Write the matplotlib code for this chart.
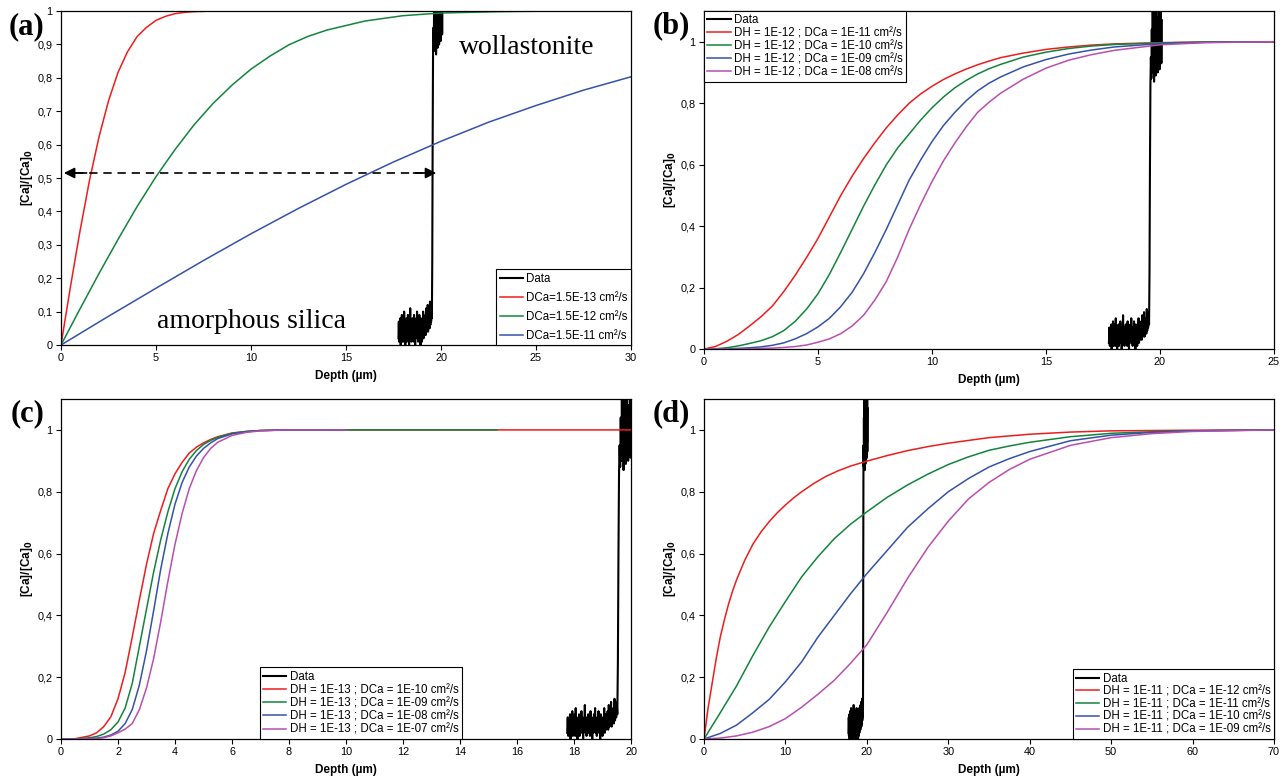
import matplotlib
matplotlib.use("Agg")
import matplotlib.pyplot as plt
from matplotlib.ticker import FuncFormatter, MultipleLocator
import numpy as np

plt.rcParams['font.family'] = ['Liberation Sans', 'DejaVu Sans']

# colours of the four model curves
col_red = '#ee1c1c'
col_green = '#13843c'
col_blue = '#3452a8'
col_mag = '#b84fae'

# ---------------- measured Ca profile (same in every panel) ----------------
data_depth = np.round(np.arange(17.76, 20.09, 0.02), 2)
data_ca = [0.02, 0.07, 0.01, 0.06, 0.03, 0.08, 0.00, 0.05, 0.02, 0.09,
           0.01, 0.06, 0.04, 0.08, 0.01, 0.10, 0.03, 0.07, 0.00, 0.06,
           0.02, 0.08, 0.01, 0.05, 0.03, 0.09, 0.02, 0.07, 0.00, 0.06,
           0.04, 0.11, 0.02, 0.07, 0.01, 0.05, 0.03, 0.08, 0.02, 0.06,
           0.01, 0.09, 0.03, 0.07, 0.00, 0.06, 0.02, 0.08, 0.04, 0.10,
           0.02, 0.06, 0.01, 0.07, 0.03, 0.09, 0.02, 0.05, 0.00, 0.08,
           0.03, 0.07, 0.01, 0.06, 0.04, 0.10, 0.02, 0.08, 0.03, 0.06,
           0.05, 0.09, 0.03, 0.11, 0.04, 0.08, 0.05, 0.12, 0.04, 0.09,
           0.06, 0.10, 0.05, 0.13, 0.06, 0.11, 0.07, 0.12, 0.08,
           0.25, 0.60, 0.86,
           0.95, 0.88, 1.04, 0.90, 1.10, 0.92, 1.02, 0.87, 1.12, 0.93,
           1.06, 0.89, 1.15, 0.94, 1.03, 0.90, 1.08, 0.95, 1.12, 0.91,
           1.05, 0.96, 1.10, 0.93, 1.07]

# ---------------- panel (a) ----------------
a_x_red = [0, 0.25, 0.5, 0.75, 1, 1.5, 2, 2.5, 3, 3.5, 4, 4.5, 5, 5.5, 6, 6.5, 7, 8, 23]
a_y_red = [0, 0.088, 0.175, 0.259, 0.341, 0.493, 0.623, 0.731, 0.816, 0.878,
           0.923, 0.951, 0.972, 0.984, 0.992, 0.996, 0.998, 1.0, 1.0]
a_x_green = [0, 1, 2, 3, 4, 5, 6, 7, 8, 9, 10, 11, 12, 13, 14, 16, 18, 20, 23, 26, 30]
a_y_green = [0, 0.108, 0.214, 0.316, 0.414, 0.504, 0.585, 0.659, 0.723, 0.778,
             0.826, 0.865, 0.899, 0.924, 0.943, 0.970, 0.986, 0.994, 0.998, 1.0, 1.0]
a_x_blue = [0, 2.5, 5, 7.5, 10, 12.5, 15, 17.5, 20, 22.5, 25, 27.5, 30]
a_y_blue = [0, 0.086, 0.170, 0.253, 0.333, 0.409, 0.481, 0.548, 0.610, 0.667,
            0.717, 0.763, 0.803]
a_labels = ['DCa=1.5E-13 cm²/s', 'DCa=1.5E-12 cm²/s', 'DCa=1.5E-11 cm²/s']

# ---------------- panel (b) ----------------
b_x = [0, 0.5, 1, 1.5, 2, 2.5, 3, 3.5, 4, 4.5, 5, 5.5, 6, 6.5, 7, 7.5, 8, 8.5,
       9, 9.5, 10, 10.5, 11, 11.5, 12, 12.5, 13, 14, 15, 16, 17, 18, 20, 22, 25]
b_red = [0, 0.008, 0.025, 0.047, 0.075, 0.105, 0.14, 0.187, 0.24, 0.298,
         0.36, 0.43, 0.50, 0.563, 0.62, 0.672, 0.72, 0.762, 0.80, 0.83,
         0.855, 0.877, 0.895, 0.911, 0.925, 0.937, 0.948,
         0.963, 0.975, 0.983, 0.989, 0.993, 0.997, 0.999, 1.0]
b_green = [0, 0.001, 0.004, 0.01, 0.018, 0.027, 0.04, 0.06, 0.09, 0.13,
           0.18, 0.243, 0.315, 0.39, 0.465, 0.535, 0.60, 0.655, 0.70, 0.745,
           0.785, 0.82, 0.85, 0.874, 0.895, 0.912, 0.926,
           0.95, 0.966, 0.978, 0.986, 0.991, 0.996, 0.999, 1.0]
b_blue = [0, 0, 0.001, 0.002, 0.004, 0.007, 0.012, 0.02, 0.033, 0.05,
          0.072, 0.1, 0.138, 0.185, 0.245, 0.315, 0.39, 0.47, 0.55, 0.615,
          0.675, 0.727, 0.77, 0.808, 0.84, 0.865, 0.885,
          0.918, 0.942, 0.96, 0.973, 0.983, 0.994, 0.998, 1.0]
b_mag = [0, 0, 0, 0, 0.001, 0.002, 0.003, 0.005, 0.008, 0.013,
         0.022, 0.033, 0.05, 0.075, 0.11, 0.16, 0.22, 0.30, 0.39, 0.47,
         0.545, 0.612, 0.67, 0.723, 0.77, 0.803, 0.832,
         0.878, 0.914, 0.94, 0.958, 0.972, 0.99, 0.997, 1.0]
b_labels = ['DH = 1E-12 ; DCa = 1E-11 cm²/s', 'DH = 1E-12 ; DCa = 1E-10 cm²/s',
            'DH = 1E-12 ; DCa = 1E-09 cm²/s', 'DH = 1E-12 ; DCa = 1E-08 cm²/s']

# ---------------- panel (c) ----------------
c_x = [0, 0.5, 1, 1.25, 1.5, 1.75, 2, 2.25, 2.5, 2.75, 3, 3.25, 3.5, 3.75, 4,
       4.25, 4.5, 4.75, 5, 5.25, 5.5, 6, 6.5, 7, 8, 10]
c_red = [0, 0.001, 0.01, 0.02, 0.04, 0.072, 0.13, 0.215, 0.33, 0.45, 0.565,
         0.665, 0.74, 0.81, 0.858, 0.895, 0.925, 0.944, 0.958, 0.969, 0.978,
         0.99, 0.995, 0.998, 1.0, 1.0]
c_green = [0, 0, 0.004, 0.008, 0.016, 0.03, 0.055, 0.10, 0.18, 0.30, 0.42,
           0.54, 0.645, 0.735, 0.81, 0.865, 0.905, 0.933, 0.953, 0.966, 0.976,
           0.989, 0.995, 0.998, 1.0, 1.0]
c_blue = [0, 0, 0.002, 0.003, 0.006, 0.013, 0.025, 0.05, 0.095, 0.175, 0.285,
          0.415, 0.55, 0.665, 0.76, 0.83, 0.88, 0.915, 0.94, 0.958, 0.972,
          0.987, 0.994, 0.998, 1.0, 1.0]
c_mag = [0, 0, 0.001, 0.002, 0.004, 0.01, 0.02, 0.032, 0.05, 0.095, 0.165,
         0.26, 0.38, 0.51, 0.63, 0.73, 0.81, 0.868, 0.91, 0.94, 0.96,
         0.982, 0.992, 0.997, 1.0, 1.0]
c_red_end = [15.3, 20]
c_green_end = [15.3]
c_labels = ['DH = 1E-13 ; DCa = 1E-10 cm²/s', 'DH = 1E-13 ; DCa = 1E-09 cm²/s',
            'DH = 1E-13 ; DCa = 1E-08 cm²/s', 'DH = 1E-13 ; DCa = 1E-07 cm²/s']

# ---------------- panel (d) ----------------
d_x_red = [0, 0.25, 0.5, 0.75, 1, 1.5, 2, 2.5, 3, 3.5, 4, 5, 6, 7, 8, 9, 10, 11,
           12, 13.5, 15, 16.5, 18, 20, 22.5, 25, 27.5, 30, 35, 40, 45, 50, 60, 70]
d_y_red = [0, 0.05, 0.10, 0.14, 0.18, 0.26, 0.33, 0.385, 0.435, 0.478, 0.515,
           0.578, 0.63, 0.67, 0.703, 0.732, 0.757, 0.78, 0.80, 0.827, 0.85,
           0.868, 0.883, 0.899, 0.917, 0.933, 0.946, 0.957, 0.975, 0.986,
           0.993, 0.997, 0.999, 1.0]
d_x_green = [0, 2, 4, 6, 8, 10, 12, 14, 16, 18, 20, 22.5, 25, 27.5, 30, 32.5,
             35, 37.5, 40, 45, 50, 55, 60, 70]
d_y_green = [0, 0.085, 0.172, 0.27, 0.362, 0.445, 0.525, 0.59, 0.648, 0.695,
             0.735, 0.782, 0.822, 0.857, 0.888, 0.913, 0.934, 0.948, 0.96,
             0.978, 0.989, 0.994, 0.997, 1.0]
d_x_blue = [0, 2, 4, 6, 8, 10, 12, 14, 16, 18, 20, 22.5, 25, 27.5, 30, 32.5, 35,
            37.5, 40, 45, 50, 55, 60, 70]
d_y_blue = [0, 0.018, 0.045, 0.085, 0.128, 0.185, 0.25, 0.33, 0.40, 0.47,
            0.535, 0.61, 0.685, 0.745, 0.80, 0.843, 0.88, 0.907, 0.93, 0.965,
            0.983, 0.992, 0.997, 1.0]
d_x_mag = [0, 2, 4, 6, 8, 10, 12, 14, 16, 18, 20, 22.5, 25, 27.5, 30, 32.5, 35,
           37.5, 40, 45, 50, 55, 60, 70]
d_y_mag = [0, 0.003, 0.01, 0.022, 0.04, 0.066, 0.103, 0.145, 0.19, 0.245,
           0.305, 0.41, 0.52, 0.62, 0.705, 0.777, 0.83, 0.872, 0.905, 0.95,
           0.975, 0.988, 0.995, 1.0]
d_labels = ['DH = 1E-11 ; DCa = 1E-12 cm²/s', 'DH = 1E-11 ; DCa = 1E-11 cm²/s',
            'DH = 1E-11 ; DCa = 1E-10 cm²/s', 'DH = 1E-11 ; DCa = 1E-09 cm²/s']


def comma(v, pos):
  return ('%g' % round(v, 3)).replace('.', ',')


def style_axes(ax, xmax, xstep, ymax, ystep):
  ax.set_xlim(0, xmax)
  ax.set_ylim(0, ymax)
  ax.xaxis.set_major_locator(MultipleLocator(xstep))
  ax.set_yticks(np.arange(0, 1.0001, ystep))
  ax.yaxis.set_major_formatter(FuncFormatter(comma))
  ax.tick_params(direction='out', length=3.5, width=0.8, labelsize=7.8, pad=2.5)
  for s in ax.spines.values():
    s.set_linewidth(0.9)
  ax.set_xlabel('Depth (µm)', fontweight='bold', fontsize=8.5, labelpad=5)
  ax.set_ylabel(r'[Ca]/[Ca]$_\mathbf{0}$', fontweight='bold', fontsize=8.5, labelpad=1.5)


def add_legend(ax, spacing, **kw):
  leg = ax.legend(fontsize=8.3, frameon=True, fancybox=False, framealpha=1,
                  edgecolor='black', borderaxespad=0, handlelength=2.0,
                  handletextpad=0.3, labelspacing=spacing, borderpad=0.3, **kw)
  leg.get_frame().set_linewidth(0.8)


fig = plt.figure(figsize=(12.84, 7.76), dpi=100)
W, H = 1284.0, 776.0
ax_a = fig.add_axes([61 / W, 1 - 345 / H, 570 / W, 334 / H])
ax_b = fig.add_axes([704 / W, 1 - 349 / H, 570 / W, 338 / H])
ax_c = fig.add_axes([61 / W, 1 - 739 / H, 570 / W, 340 / H])
ax_d = fig.add_axes([704 / W, 1 - 739 / H, 570 / W, 340 / H])

lw = 1.1
dlw = 1.5

# (a)
ax_a.plot(data_depth, data_ca, color='black', lw=dlw, label='Data')
ax_a.plot(a_x_red, a_y_red, color=col_red, lw=lw, label=a_labels[0])
ax_a.plot(a_x_green, a_y_green, color=col_green, lw=lw, label=a_labels[1])
ax_a.plot(a_x_blue, a_y_blue, color=col_blue, lw=lw, label=a_labels[2])
style_axes(ax_a, 30, 5, 1.0, 0.1)
add_legend(ax_a, 0.6, loc='lower right')
ax_a.text(24.5, 0.89, 'wollastonite', family='Liberation Serif', fontsize=20,
          ha='center', va='center')
ax_a.text(10.05, 0.069, 'amorphous silica', family='Liberation Serif', fontsize=20,
          ha='center', va='center')
arrow_left, arrow_right, arrow_y = 0.15, 19.75, 0.515
ax_a.plot([arrow_left + 0.6, arrow_right - 0.6], [arrow_y, arrow_y], color='black',
          lw=1.2, ls=(0, (5, 3.5)))
ax_a.annotate('', xy=(arrow_left, arrow_y), xytext=(arrow_left + 1.2, arrow_y),
              arrowprops=dict(arrowstyle='-|>', color='black', lw=1.2,
                              mutation_scale=16, shrinkA=0, shrinkB=0))
ax_a.annotate('', xy=(arrow_right, arrow_y), xytext=(arrow_right - 1.2, arrow_y),
              arrowprops=dict(arrowstyle='-|>', color='black', lw=1.2,
                              mutation_scale=16, shrinkA=0, shrinkB=0))

# (b)
ax_b.plot(data_depth, data_ca, color='black', lw=dlw, label='Data')
ax_b.plot(b_x, b_red, color=col_red, lw=lw, label=b_labels[0])
ax_b.plot(b_x, b_green, color=col_green, lw=lw, label=b_labels[1])
ax_b.plot(b_x, b_blue, color=col_blue, lw=lw, label=b_labels[2])
ax_b.plot(b_x, b_mag, color=col_mag, lw=lw, label=b_labels[3])
style_axes(ax_b, 25, 5, 1.1, 0.2)
add_legend(ax_b, 0.08, loc='upper left')

# (c)
ax_c.plot(data_depth, data_ca, color='black', lw=dlw, label='Data')
ax_c.plot(c_x + c_red_end, c_red + [1.0, 1.0], color=col_red, lw=lw, label=c_labels[0])
ax_c.plot(c_x + c_green_end, c_green + [1.0], color=col_green, lw=lw, label=c_labels[1])
ax_c.plot(c_x, c_blue, color=col_blue, lw=lw, label=c_labels[2])
ax_c.plot(c_x, c_mag, color=col_mag, lw=lw, label=c_labels[3])
style_axes(ax_c, 20, 2, 1.1, 0.2)
add_legend(ax_c, 0.1, loc='lower right', bbox_to_anchor=(0.7035, 0))

# (d)
ax_d.plot(data_depth, data_ca, color='black', lw=dlw, label='Data')
ax_d.plot(d_x_red, d_y_red, color=col_red, lw=lw, label=d_labels[0])
ax_d.plot(d_x_green, d_y_green, color=col_green, lw=lw, label=d_labels[1])
ax_d.plot(d_x_blue, d_y_blue, color=col_blue, lw=lw, label=d_labels[2])
ax_d.plot(d_x_mag, d_y_mag, color=col_mag, lw=lw, label=d_labels[3])
style_axes(ax_d, 70, 10, 1.1, 0.2)
add_legend(ax_d, 0.06, loc='lower right')

# panel letters
for lab, px, py in [('(a)', 27, 27), ('(b)', 671, 26), ('(c)', 28, 414), ('(d)', 671, 414)]:
  fig.text(px / W, 1 - py / H, lab, family='Liberation Serif', fontweight='bold',
           fontsize=22, ha='center', va='center')

plt.savefig('out.png', dpi=100)
